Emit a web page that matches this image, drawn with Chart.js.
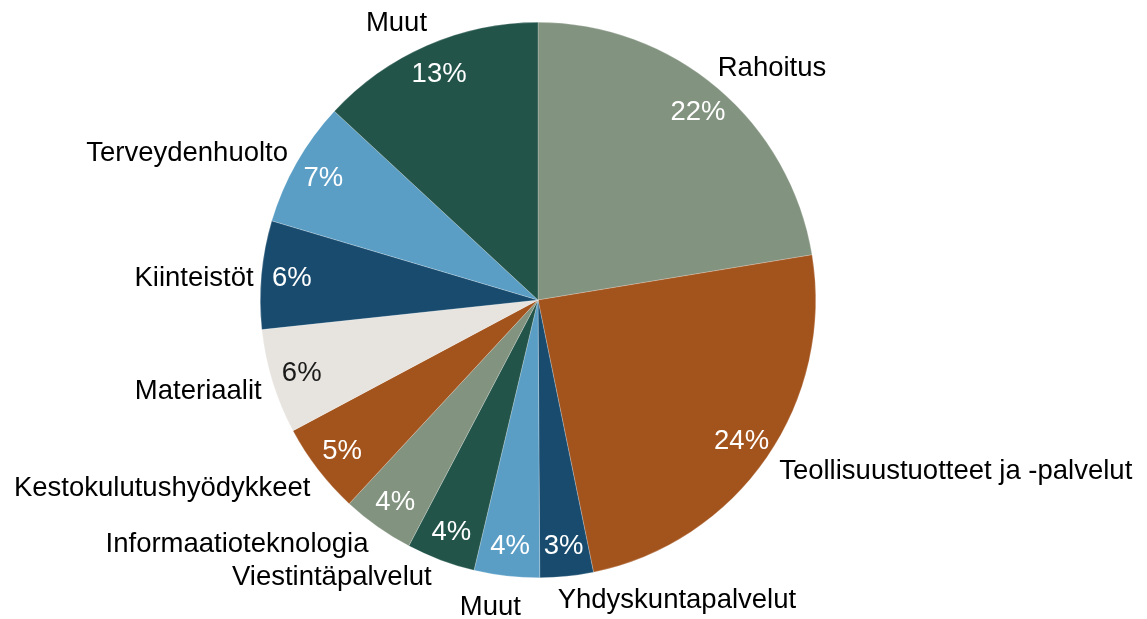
<!DOCTYPE html>
<html>
<head>
<meta charset="utf-8">
<script src="https://cdn.jsdelivr.net/npm/chart.js@4.4.1/dist/chart.umd.min.js"></script>
<style>
  html, body { margin: 0; padding: 0; background: #ffffff; }
  #wrap { width: 1147px; height: 619px; position: relative; }
</style>
</head>
<body>
<div id="wrap"><canvas id="c" width="1147" height="619"></canvas></div>
<script>
const categories = ['Rahoitus', 'Teollisuustuotteet ja -palvelut', 'Yhdyskuntapalvelut', 'Muut', 'Viestintäpalvelut', 'Informaatioteknologia', 'Kestokulutushyödykkeet', 'Materiaalit', 'Kiinteistöt', 'Terveydenhuolto', 'Muut'];
const shares = [22.4, 24.4, 3.1, 3.8, 4.0, 4.2, 5.3, 6.1, 6.3, 7.3, 13.1];
const sliceColors = ['#82937f', '#a3531c', '#184b6e', '#5a9ec6', '#22544a', '#82937f', '#a3531c', '#e7e3de', '#184b6e', '#5a9ec6', '#22544a'];
const pctColors = ['#ffffff', '#ffffff', '#ffffff', '#ffffff', '#ffffff', '#ffffff', '#ffffff', '#1a1a1a', '#ffffff', '#ffffff', '#ffffff'];

const FONT = '27.5px "Liberation Sans", Arial, sans-serif';
// fine adjustments of outside label placement (px), like the spreadsheet's collision avoidance
const labelNudge = [[14,-5],[37,3],[97,5],[-12,13],[-71,0],[-60,2],[-32,7],[-6,4],[0,5],[-15,0],[-15,-5]];

const labelPlugin = {
  id: 'pieLabels',
  afterDatasetsDraw(chart) {
    const ctx = chart.ctx;
    const meta = chart.getDatasetMeta(0);
    const data = chart.data.datasets[0].data;
    const total = data.reduce((a, b) => a + b, 0);
    ctx.save();
    ctx.font = FONT;
    ctx.textAlign = 'center';
    ctx.textBaseline = 'middle';
    meta.data.forEach((arc, i) => {
      const p = arc.getProps(['x', 'y', 'startAngle', 'endAngle', 'outerRadius'], true);
      const a = (p.startAngle + p.endAngle) / 2;
      const ca = Math.cos(a), sa = Math.sin(a);
      // percentage inside
      const rIn = p.outerRadius * 0.89;
      ctx.fillStyle = pctColors[i];
      ctx.fillText(Math.round(data[i] / total * 100) + '%', p.x + rIn * ca, p.y + rIn * sa + 1);
      // category outside
      const label = chart.data.labels[i];
      const w = ctx.measureText(label).width;
      const h = 22;
      const rOut = p.outerRadius + 8;
      const cx = p.x + rOut * ca + (w / 2) * ca + labelNudge[i][0];
      const cy = p.y + rOut * sa + (h / 2) * sa + labelNudge[i][1];
      ctx.fillStyle = '#000000';
      ctx.fillText(label, cx, cy);
    });
    ctx.restore();
  }
};

new Chart(document.getElementById('c'), {
  type: 'pie',
  data: {
    labels: categories,
    datasets: [{
      data: shares,
      backgroundColor: sliceColors,
      borderColor: 'rgba(255,255,255,0.45)',
      borderWidth: 0.5,
      hoverOffset: 0
    }]
  },
  options: {
    responsive: false,
    animation: false,
    devicePixelRatio: 1,
    layout: { padding: { left: 0, right: 71, top: 22, bottom: 41 } },
    plugins: {
      legend: { display: false },
      tooltip: { enabled: false }
    }
  },
  plugins: [labelPlugin]
});
</script>
</body>
</html>
